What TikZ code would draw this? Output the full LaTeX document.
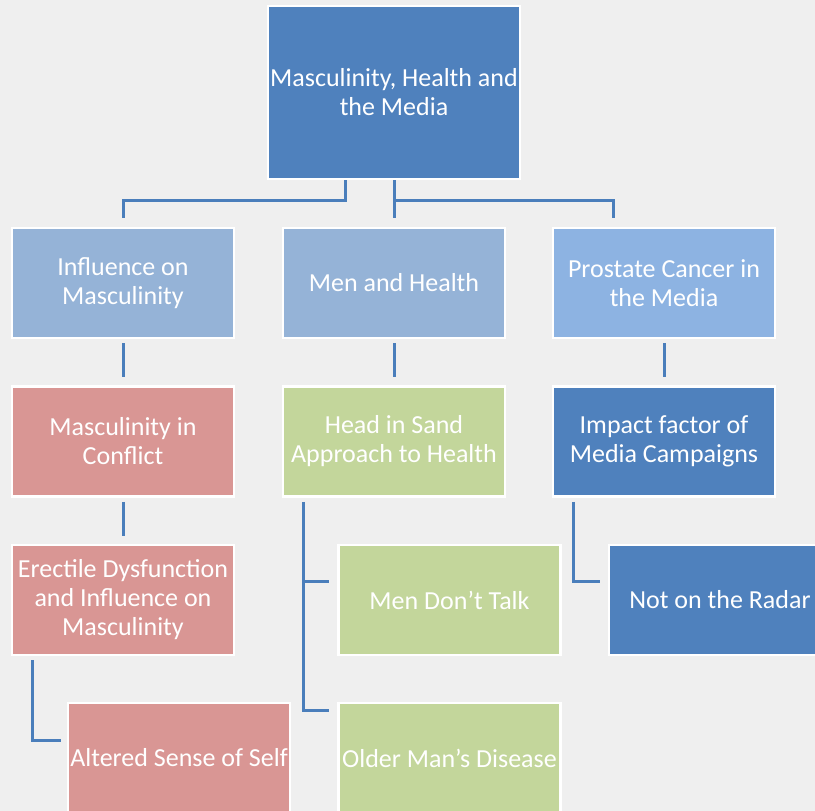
\documentclass[tikz,border=0pt]{standalone}
\usepackage{fontspec}
\setmainfont{Carlito}
\usetikzlibrary{calc}
\definecolor{bg}{HTML}{EFEFEF}
\definecolor{dblue}{HTML}{4F81BD}
\definecolor{lblue}{HTML}{95B3D7}
\definecolor{pblue}{HTML}{8DB3E2}
\definecolor{lred}{HTML}{D99694}
\definecolor{lgreen}{HTML}{C3D69B}
\definecolor{conn}{HTML}{4A7EBB}
\tikzset{
  box/.style={rectangle, draw=white, line width=2.5pt, text=white, align=center,
    minimum width=222pt, minimum height=110pt, inner sep=1pt,
    font=\fontsize{26}{29}\selectfont},
  link/.style={draw=conn, line width=3pt}
}
\begin{document}
\begin{tikzpicture}[x=1pt,y=-1pt]
\useasboundingbox (0,0) rectangle (815,811);
\clip (0,0) rectangle (815,811);
\fill[bg] (0,0) rectangle (815,811);
% nodes
\node[box, fill=dblue, minimum width=252pt, minimum height=173pt] (top) at (394,92.5) {Masculinity, Health and\\the Media};
\node[box, fill=lblue] (l1) at (123,283) {Influence on\\Masculinity};
\node[box, fill=lblue] (m1) at (394,283) {Men and Health};
\node[box, fill=pblue] (r1) at (664,283) {Prostate Cancer  in\\the Media};
\node[box, fill=lred] (l2) at (123,441.5) {Masculinity in\\Conflict};
\node[box, fill=lgreen] (m2) at (394,441.5) {Head in Sand\\Approach to Health};
\node[box, fill=dblue] (r2) at (664,441.5) {Impact factor of\\Media Campaigns};
\node[box, fill=lred] (l3) at (123,600) {Erectile Dysfunction\\and Influence on\\Masculinity};
\node[box, fill=lgreen] (m3) at (449.5,600) {Men Don’t Talk};
\node[box, fill=dblue] (r3) at (720,600) {Not on the Radar};
\node[box, fill=lred] (l4) at (179,758) {Altered Sense of Self};
\node[box, fill=lgreen] (m4) at (449.5,758) {Older Man’s Disease};
% connectors
\coordinate (tA) at ($(top.south)+(-49,0)$);
\coordinate (tB) at (top.south);
\draw[link] (tA) |- (123,200) -- ($(l1.north)+(0,-9)$);
\draw[link] (tB) -- ($(m1.north)+(0,-9)$);
\draw[link] (394,200) -- (613,200) -- ($(r1.north)+(-51,-9)$);
\draw[link] ($(l1.south)+(0,4)$) -- ($(l2.north)+(0,-8)$);
\draw[link] ($(m1.south)+(0,4)$) -- ($(m2.north)+(0,-8)$);
\draw[link] ($(r1.south)+(0,4)$) -- ($(r2.north)+(0,-8)$);
\draw[link] ($(l2.south)+(0,4)$) -- ($(l3.north)+(0,-8)$);
\draw[link] ($(m2.south west)+(22,4)$) |- ($(m4.west)+(-8,-48)$);
\draw[link] (303,581) -- ($(m3.west)+(-8,-19)$);
\draw[link] ($(r2.south west)+(22,4)$) |- ($(r3.west)+(-8,-19)$);
\draw[link] ($(l3.south west)+(22,4)$) |- ($(l4.west)+(-6,-18)$);
\end{tikzpicture}
\end{document}
